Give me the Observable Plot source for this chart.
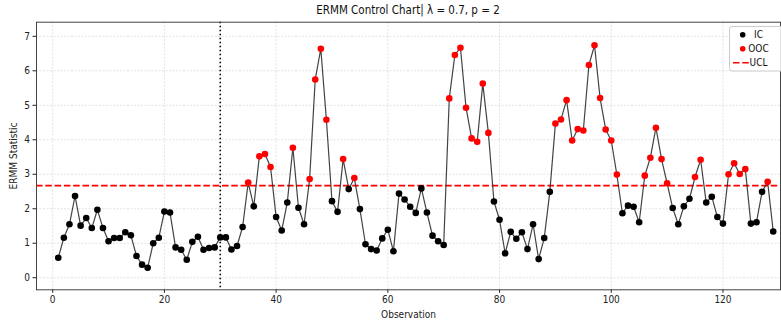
<!DOCTYPE html>
<html>
<head>
<meta charset="utf-8">
<script src="https://cdn.jsdelivr.net/npm/d3@7"></script>
<script src="https://cdn.jsdelivr.net/npm/@observablehq/plot@0.6"></script>
<style>
  html, body { margin: 0; padding: 0; background: #fff; }
  #chart svg { display: block; }
</style>
</head>
<body>
<div id="chart"></div>
<script>
// ---- data ----
const titleText = "ERMM Control Chart| \u03bb = 0.7, p = 2";
const xLabel = "Observation";
const yLabel = "ERMM Statistic";
const ucl = 2.67;
const changePoint = 30;
const xTicks = [0, 20, 40, 60, 80, 100, 120];
const yTicks = [0, 1, 2, 3, 4, 5, 6, 7];
const statistic = [
  0.58, 1.16, 1.55, 2.37, 1.51, 1.73, 1.44, 1.97, 1.44, 1.06,
  1.15, 1.15, 1.32, 1.23, 0.63, 0.38, 0.29, 1.00, 1.16, 1.92,
  1.89, 0.88, 0.81, 0.52, 1.04, 1.19, 0.81, 0.86, 0.88, 1.17,
  1.17, 0.82, 0.92, 1.47, 2.76, 2.07, 3.52, 3.59, 3.21, 1.76,
  1.37, 2.18, 3.77, 2.03, 1.55, 2.86, 5.75, 6.64, 4.58, 2.22,
  1.91, 3.44, 2.57, 2.89, 1.99, 0.97, 0.83, 0.79, 1.14, 1.39,
  0.77, 2.44, 2.27, 2.06, 1.88, 2.59, 1.89, 1.22, 1.06, 0.95,
  5.20, 6.46, 6.67, 4.93, 4.04, 3.94, 5.63, 4.20, 2.21, 1.68,
  0.71, 1.33, 1.13, 1.32, 0.83, 1.55, 0.54, 1.15, 2.49, 4.47,
  4.59, 5.15, 3.98, 4.31, 4.27, 6.17, 6.74, 5.21, 4.30, 3.98,
  2.99, 1.87, 2.09, 2.06, 1.61, 2.96, 3.48, 4.35, 3.44, 2.74,
  2.02, 1.55, 2.07, 2.29, 2.92, 3.42, 2.18, 2.35, 1.76, 1.57,
  3.00, 3.32, 3.01, 3.15, 1.57, 1.61, 2.49, 2.78, 1.34
];

// ---- table ----
const rows = statistic.map((v, i) => ({obs: i + 1, value: v, status: v > ucl ? "OOC" : "IC"}));

const W = 781, H = 322;
const mL = 36, mR = 1, mT = 21.7, mB = 32.7;
const font = "'DejaVu Sans Condensed', 'Liberation Sans Narrow', 'DejaVu Sans', sans-serif";

const plot = Plot.plot({
  width: W,
  height: H,
  marginLeft: mL,
  marginRight: mR,
  marginTop: mT,
  marginBottom: mB,
  style: {fontFamily: font, fontSize: "10px", color: "#222", background: "#fff"},
  x: {domain: [-2.9, 130.3], ticks: xTicks, label: xLabel, labelAnchor: "center", labelArrow: "none", labelOffset: 28, tickSize: 3.5, tickPadding: 3},
  y: {domain: [-0.35, 7.41], ticks: yTicks, label: yLabel, labelAnchor: "center", labelArrow: "none", labelOffset: 27, tickSize: 3.5, tickPadding: 3},
  color: {domain: ["IC", "OOC"], range: ["#000000", "#ff0000"]},
  marks: [
    Plot.gridX(xTicks, {stroke: "#b0b0b0", strokeOpacity: 0.35, strokeDasharray: "2,1.5"}),
    Plot.gridY(yTicks, {stroke: "#b0b0b0", strokeOpacity: 0.35, strokeDasharray: "2,1.5"}),
    Plot.ruleX([changePoint], {stroke: "#000", strokeWidth: 1.6, strokeDasharray: "1.6,2.4"}),
    Plot.ruleY([ucl], {stroke: "#ff0000", strokeWidth: 1.6, strokeDasharray: "6.5,2.8"}),
    Plot.line(rows, {x: "obs", y: "value", stroke: "#222", strokeWidth: 1.2, strokeOpacity: 0.85}),
    Plot.dot(rows, {x: "obs", y: "value", fill: "status", r: 3.3, stroke: "none"}),
    Plot.frame({stroke: "#444", strokeWidth: 1})
  ]
});

const svg = d3.select(plot);
// title
svg.append("text")
  .attr("x", mL + (W - mL - mR) / 2)
  .attr("y", 14)
  .attr("text-anchor", "middle")
  .style("font-family", font)
  .style("font-size", "11.5px")
  .attr("fill", "#111")
  .text(titleText);

// legend (inside plot, top right)
const lg = svg.append("g").attr("transform", "translate(729.5,26.5)");
lg.append("rect").attr("x", 0).attr("y", 0).attr("width", 60).attr("height", 44.5)
  .attr("rx", 2.5).attr("fill", "#fff").attr("fill-opacity", 0.85).attr("stroke", "#cccccc");
const items = [
  {label: "IC", kind: "dot", color: "#000000"},
  {label: "OOC", kind: "dot", color: "#ff0000"},
  {label: "UCL", kind: "line", color: "#ff0000"}
];
items.forEach((it, i) => {
  const y = 8.2 + i * 14;
  if (it.kind === "dot") {
    lg.append("circle").attr("cx", 13.2).attr("cy", y).attr("r", 2.8).attr("fill", it.color);
  } else {
    lg.append("line").attr("x1", 3.5).attr("x2", 21.5).attr("y1", y).attr("y2", y)
      .attr("stroke", it.color).attr("stroke-width", 1.6).attr("stroke-dasharray", "6.5,2.8");
  }
  lg.append("text").attr("x", 29).attr("y", y).attr("dy", "0.35em")
    .style("font-family", font).style("font-size", "10px").attr("fill", "#111").text(it.label);
});

document.getElementById("chart").appendChild(plot);
</script>
</body>
</html>
